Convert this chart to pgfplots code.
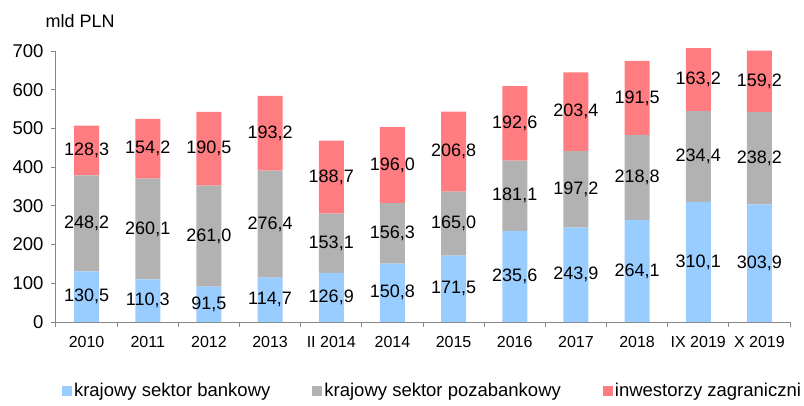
\documentclass[border=0pt]{standalone}
\usepackage{fontspec}
\setmainfont{Liberation Sans}
\usepackage{pgfplots}
\pgfplotsset{compat=1.18}
\definecolor{bank}{HTML}{99CCFF}
\definecolor{nonbank}{HTML}{B2B2B2}
\definecolor{foreign}{HTML}{FF7C80}
\definecolor{axgray}{HTML}{868686}
\begin{document}
\begin{tikzpicture}
\useasboundingbox (0pt,0pt) rectangle (804pt,405pt);
\begin{axis}[
  at={(56pt,83pt)}, anchor=south west,
  scale only axis, width=734pt, height=271pt,
  clip=false,
  ybar stacked, bar width=25pt,
  xmin=-0.5, xmax=11.5, ymin=0, ymax=700,
  axis x line*=bottom, axis y line*=left,
  axis line style={axgray, line width=1pt},
  xtick={0,...,11},
  xticklabels={2010,2011,2012,2013,II 2014,2014,2015,2016,2017,2018,IX 2019,X 2019},
  major x tick style={draw=none},
  minor xtick={-0.5,0.5,...,11.5},
  minor x tick style={axgray, line width=1pt},
  minor tick length=5pt,
  ytick={0,100,...,700},
  y tick style={axgray, line width=1pt},
  major tick length=5pt,
  tick align=outside,
  /pgf/number format/assume math mode=true,
  yticklabel style={font=\fontsize{18.5}{21}\selectfont, xshift=-4pt},
  xticklabel style={font=\fontsize{16}{19}\selectfont, yshift=-6pt},
  nodes near coords={\pgfmathprintnumber[use comma,fixed,fixed zerofill,precision=1]{\rawy}},
  visualization depends on=rawy \as \rawy,
  every node near coord/.append style={font=\fontsize{18}{21}\selectfont, anchor=center},
  legend style={at={(0.513,-0.253)}, anchor=center, draw=none, legend columns=3,
    font=\fontsize{18.5}{21}\selectfont, /tikz/every even column/.append style={column sep=40pt}},
  legend image code/.code={\fill[#1] (0pt,-5pt) rectangle (10pt,5pt);},
]
\addplot[fill=bank, draw=none] table[x=x, y=v] {
x v
0 130.5
1 110.3
2 91.5
3 114.7
4 126.9
5 150.8
6 171.5
7 235.6
8 243.9
9 264.1
10 310.1
11 303.9
};
\addlegendentry{krajowy sektor bankowy}
\addplot[fill=nonbank, draw=none] table[x=x, y=v] {
x v
0 248.2
1 260.1
2 261.0
3 276.4
4 153.1
5 156.3
6 165.0
7 181.1
8 197.2
9 218.8
10 234.4
11 238.2
};
\addlegendentry{krajowy sektor pozabankowy}
\addplot[fill=foreign, draw=none] table[x=x, y=v] {
x v
0 128.3
1 154.2
2 190.5
3 193.2
4 188.7
5 196.0
6 206.8
7 192.6
8 203.4
9 191.5
10 163.2
11 159.2
};
\addlegendentry{inwestorzy zagraniczni}
\end{axis}
\node[anchor=west, font=\fontsize{18}{21}\selectfont] at (42pt,384pt) {mld PLN};
\end{tikzpicture}
\end{document}
